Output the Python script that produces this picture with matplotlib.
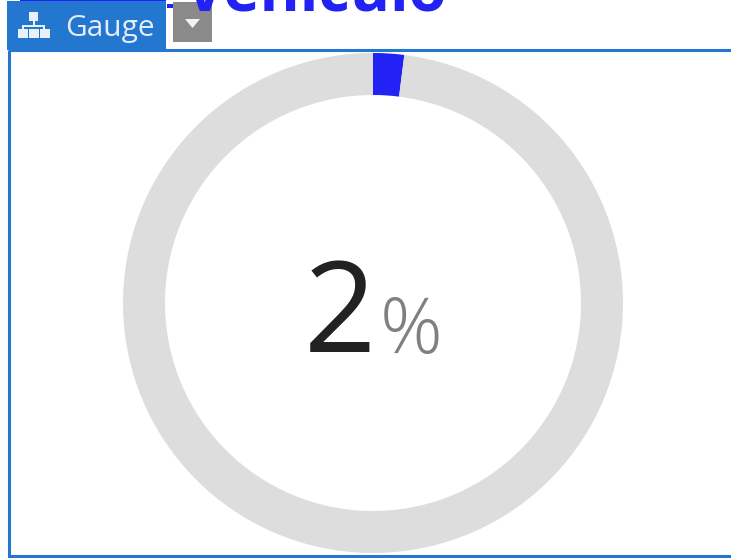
import matplotlib
matplotlib.use('Agg')
import matplotlib.pyplot as plt
from matplotlib.patches import Rectangle, Polygon

W, H = 731, 558

gauge_values = [2, 98]
gauge_colors = ['#2222f5', '#dddddd']
gauge_text = '2'
unit_text = '%'
tab_text = 'Gauge'
title_text = 'Vehículo'

plt.rcParams['font.family'] = ['Open Sans', 'DejaVu Sans']

fig = plt.figure(figsize=(W / 100, H / 100), dpi=100, facecolor='white')

# page layer in pixel coordinates
bg = fig.add_axes([0, 0, 1, 1])
bg.set_xlim(0, W)
bg.set_ylim(H, 0)
bg.axis('off')

# the title is cut by the top of the page in the reference too
bg.text(185, 10.5, title_text, color='#2222f5', fontsize=44, fontweight='bold',
        ha='left', va='baseline')
bg.add_patch(Rectangle((20, 0), 146, 1.2, color='#2222f5', lw=0))
bg.add_patch(Rectangle((167, 4), 6, 4, color='#2222f5', lw=0))

blue = '#2477cf'
bg.add_patch(Rectangle((8.5, 50), W, 505.5, fc='none', ec=blue, lw=2.2))
bg.add_patch(Rectangle((7, 1.2), 159, 49, color=blue, lw=0))
bg.add_patch(Rectangle((173, 2), 39, 40, color='#8a8a8a', lw=0))
bg.add_patch(Polygon([[185, 19], [200, 19], [192.5, 28]], color='#f2f2f2', lw=0))

# sitemap icon
icon = '#eaf0f8'
bg.add_patch(Rectangle((29, 12), 9, 9, color=icon, lw=0))
bg.add_patch(Rectangle((32.5, 21), 2, 5, color=icon, lw=0))
bg.add_patch(Rectangle((22, 24.5), 23, 2, color=icon, lw=0))
bg.add_patch(Rectangle((22, 24.5), 2, 5, color=icon, lw=0))
bg.add_patch(Rectangle((43, 24.5), 2, 5, color=icon, lw=0))
for x0 in [18, 29, 40]:
    bg.add_patch(Rectangle((x0, 29), 10, 9, color=icon, lw=0))

bg.text(65, 36, tab_text, color='#e4ecf7', fontsize=21.5, ha='left', va='baseline')

# the gauge
ax = fig.add_axes([(373 - 250) / W, (H - 553) / H, 500 / W, 500 / H])
ax.patch.set_alpha(0)
ax.pie(gauge_values, colors=gauge_colors, startangle=90, counterclock=False,
       radius=1, wedgeprops={'width': 42 / 250, 'linewidth': 0})
ax.set_xlim(-1, 1)
ax.set_ylim(-1, 1)

bg.set_zorder(0)
ax.set_zorder(1)

fig.text(304 / W, 1 - 352 / H, gauge_text, color='#222222', fontsize=91,
         fontweight='normal', ha='left', va='baseline')
fig.text(380 / W, 1 - 353 / H, unit_text, color='#808080', fontsize=56,
         fontweight='light', ha='left', va='baseline')

fig.savefig('out.png', dpi=100)
